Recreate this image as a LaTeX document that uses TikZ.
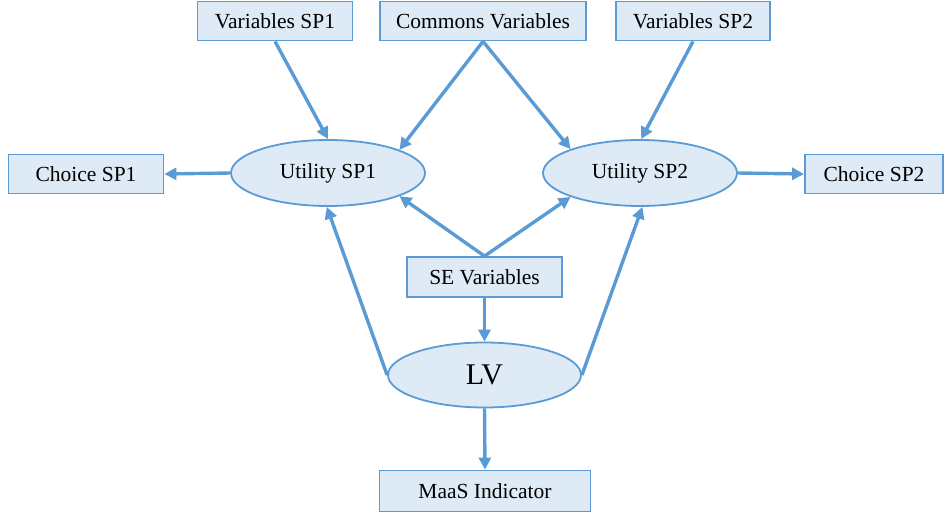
\documentclass[tikz,border=0pt]{standalone}
\usepackage{fontspec}
\setmainfont{Liberation Serif}
\usetikzlibrary{shapes.geometric,arrows.meta}
\definecolor{bfill}{HTML}{DEEAF6}
\definecolor{bline}{HTML}{5B9BD5}
\tikzset{
  box/.style={draw=bline, line width=1.8pt, fill=bfill, rectangle, inner sep=0pt, font=\fontsize{21.5}{24}\selectfont},
  ell/.style={draw=bline, line width=1.8pt, fill=bfill, ellipse, inner sep=0pt, font=\fontsize{21.5}{24}\selectfont},
  arr/.style={draw=bline, line width=3.4pt, -{Triangle[length=12pt,width=12pt]}}
}
\begin{document}
\begin{tikzpicture}[x=1pt,y=-1pt]
\useasboundingbox (0,0) rectangle (950,514);
\node[box, minimum width=155pt, minimum height=39pt] (vs1) at (275,21) {Variables SP1};
\node[box, minimum width=206pt, minimum height=39pt] (cv) at (483,21) {Commons Variables};
\node[box, minimum width=154pt, minimum height=39pt] (vs2) at (693,21) {Variables SP2};
\node[box, minimum width=155pt, minimum height=39pt] (c1) at (86,174) {Choice SP1};
\node[box, minimum width=138pt, minimum height=39pt] (c2) at (874,174) {Choice SP2};
\node[ell, minimum width=194pt, minimum height=66pt] (u1) at (328,173) {Utility SP1};
\node[ell, minimum width=194pt, minimum height=66pt] (u2) at (640,173) {Utility SP2};
\node[box, minimum width=155pt, minimum height=40pt] (se) at (484.5,277) {SE Variables};
\node[ell, minimum width=193pt, minimum height=65pt, font=\fontsize{30}{33}\selectfont] (lv) at (484.5,375) {LV};
\node[box, minimum width=211pt, minimum height=41pt] (mi) at (485,491) {MaaS Indicator};

\draw[arr] (vs1.south) -- (u1.north);
\draw[arr] (cv.south) -- (u1.18);
\draw[arr] (cv.south) -- (u2.161);
\draw[arr] (vs2.south) -- (u2.88);
\draw[arr] (u1.west) -- (c1.east);
\draw[arr] (u2.east) -- (c2.west);
\draw[arr] (se.north) -- (u1.-18);
\draw[arr] (se.north) -- (u2.199);
\draw[arr] (se.south) -- (lv.north);
\draw[arr] (lv.west) -- (u1.268);
\draw[arr] (lv.east) -- (u2.274);
\draw[arr] (lv.south) -- (mi.north);
\end{tikzpicture}
\end{document}
